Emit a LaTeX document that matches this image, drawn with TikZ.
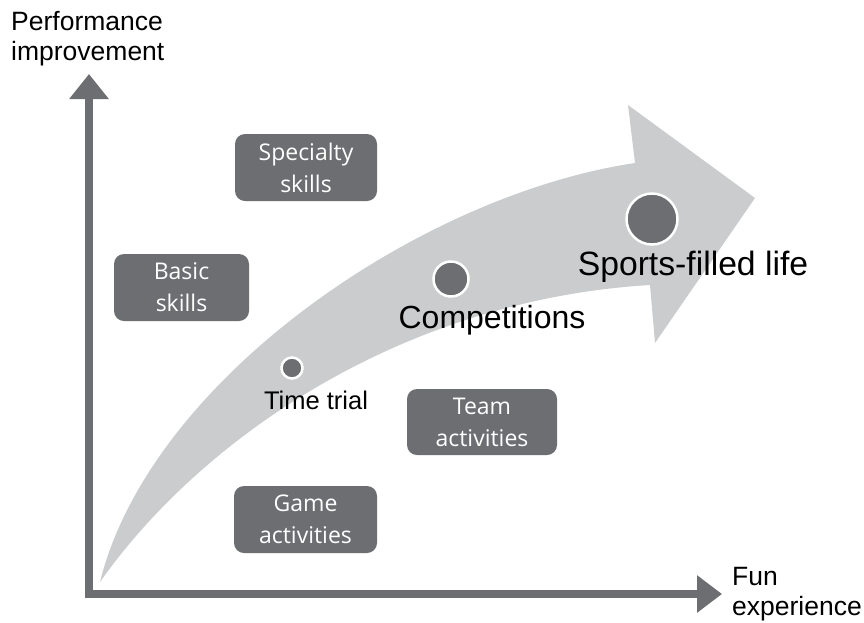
\documentclass[tikz,border=0pt]{standalone}
\usepackage{fontspec}
\setmainfont{Liberation Sans}
\newfontfamily\boxfont{Open Sans}
\usetikzlibrary{arrows.meta}
\definecolor{axisgray}{HTML}{6D6E71}
\definecolor{boxgray}{HTML}{6D6E71}
\definecolor{bandgray}{HTML}{CBCCCD}
\begin{document}
\begin{tikzpicture}[x=1pt,y=-1pt,
  axis/.style={draw=axisgray, line width=8pt, line join=miter,
    {Triangle[length=25pt,width=38pt]}-{Triangle[length=25pt,width=36pt]}},
  skillbox/.style={fill=boxgray, rounded corners=10pt, text=white,
    font=\boxfont\fontsize{23}{32}\selectfont, align=center, inner sep=0pt},
  stage/.style={circle, fill=boxgray, draw=white, line width=2.5pt, inner sep=0pt},
  axislabel/.style={font=\fontsize{26.5}{30}\selectfont, align=left, inner sep=0pt},
  stagelabel/.style={inner sep=0pt, anchor=base}]
\useasboundingbox (0,0) rectangle (864,622);

% growth band with its arrow head
\fill[bandgray] (100,582) .. controls (150,380) and (420,195) .. (635,163)
  -- (628,105) -- (755,198) -- (655,343) -- (650,285)
  .. controls (400,300) and (200,440) .. (100,582) -- cycle;

% axes
\coordinate (ytop) at (89,74);
\coordinate (origin) at (89,594);
\coordinate (xend) at (722,594);
\draw[axis] (ytop) -- (origin) -- (xend);

% axis titles (base anchor sits on the last line)
\node[axislabel, anchor=base west] (ylab) at (11,60) {Performance\\improvement};
\node[axislabel, anchor=base west] (xlab) at (732,615) {Fun\\experience};

% skill boxes
\node[skillbox, minimum width=142pt, minimum height=67pt] (spec) at (306,167.5) {Specialty\\skills};
\node[skillbox, minimum width=135pt, minimum height=67pt] (basic) at (181.5,287.5) {Basic\\skills};
\node[skillbox, minimum width=150pt, minimum height=66pt] (team) at (482,422) {Team\\activities};
\node[skillbox, minimum width=143pt, minimum height=67pt] (game) at (305.5,519.5) {Game\\activities};

% stages along the band
\node[stage, minimum size=21pt] (trial) at (292,368) {};
\node[stage, minimum size=35pt] (comp) at (451,279) {};
\node[stage, minimum size=51pt] (life) at (652,219) {};

\node[stagelabel, font=\fontsize{25.5}{30}\selectfont] (triallab) at (316,409) {Time trial};
\node[stagelabel, font=\fontsize{32}{36}\selectfont] (complab) at (492,328) {Competitions};
\node[stagelabel, font=\fontsize{33.7}{38}\selectfont] (lifelab) at (693,275) {Sports-filled life};
\end{tikzpicture}
\end{document}
